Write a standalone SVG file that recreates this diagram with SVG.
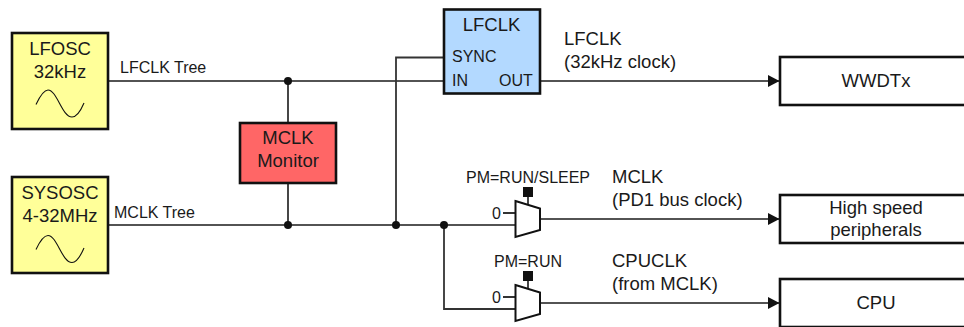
<svg xmlns="http://www.w3.org/2000/svg" width="964" height="327" viewBox="0 0 964 327">
<style>
text{font-family:"Liberation Sans",Arial,sans-serif;fill:#1a1a1a;font-size:18.500px}
.c{text-anchor:middle}
.s{font-size:16px}
.box{stroke:#111;stroke-width:2.6}
.w{fill:none;stroke:#1a1a1a;stroke-width:1.4}
.g{fill:none;stroke:#333;stroke-width:1.8}
.wave{fill:none;stroke:#111;stroke-width:1.1}
.dot{fill:#111}
.mux{fill:#fff;stroke:#111;stroke-width:2}
</style>
<defs>
<marker id="arr" markerUnits="userSpaceOnUse" markerWidth="12" markerHeight="12" refX="11" refY="6" orient="auto"><path d="M0 0L11.500 6L0 12Z" fill="#111"/></marker>
</defs>
<g id="connectors">
<path class="w" d="M108 81H443"/>
<path class="w" d="M540 81H779" marker-end="url(#arr)"/>
<path class="g" d="M288 81V123M288 183V225"/>
<path class="w" d="M108 225H515"/>
<path class="g" d="M396 225V57.500H443"/>
<path class="g" d="M444 225V309H515"/>
<path class="w" d="M540 219H779" marker-end="url(#arr)"/>
<path class="w" d="M540 303H779" marker-end="url(#arr)"/>
<circle class="dot" cx="288" cy="81" r="4"/>
<circle class="dot" cx="288" cy="225" r="4"/>
<circle class="dot" cx="396" cy="225" r="4"/>
<circle class="dot" cx="444" cy="225" r="4"/>
<text x="120" y="73" class="s">LFCLK Tree</text>
<text x="114" y="218" class="s">MCLK Tree</text>
<text x="564" y="45">LFCLK</text>
<text x="564" y="68">(32kHz clock)</text>
<text x="612" y="183">MCLK</text>
<text x="612" y="206">(PD1 bus clock)</text>
<text x="612" y="267">CPUCLK</text>
<text x="612" y="290">(from MCLK)</text>
</g>
<g id="lfosc">
<rect class="box" x="12" y="33" width="96" height="96" fill="#ffff99"/>
<text class="c" x="60" y="55">LFOSC</text>
<text class="c" x="60" y="78">32kHz</text>
<path class="wave" d="M36 104.500C40 96 44 90 48 90C57 90 62 117 72 117C77 117 81 110 84 103"/>
</g>
<g id="sysosc">
<rect class="box" x="12" y="177" width="96" height="96" fill="#ffff99"/>
<text class="c" x="60" y="199">SYSOSC</text>
<text class="c" x="60" y="222">4-32MHz</text>
<path class="wave" d="M36 249.500C40 241 44 235.500 48 235.500C57 235.500 62 262.500 72 262.500C77 262.500 81 255 84 248"/>
</g>
<g id="mclk-monitor">
<rect class="box" x="240" y="123" width="96" height="60" fill="#ff6666"/>
<text class="c" x="288" y="144">MCLK</text>
<text class="c" x="288" y="167">Monitor</text>
</g>
<g id="lfclk">
<rect class="box" x="444" y="9.500" width="96" height="84" fill="#b3d9ff"/>
<text class="c" x="491.500" y="31">LFCLK</text>
<text x="452" y="62" class="s">SYNC</text>
<text x="452" y="86" class="s">IN</text>
<text x="499" y="86" class="s">OUT</text>
</g>
<g id="mux-mclk">
<path class="g" d="M528 204V196M503 213H515"/>
<rect class="dot" x="523" y="187" width="10" height="10"/>
<path class="mux" d="M515.500 201L540 208.500V230L515.500 237Z"/>
<text x="466" y="183" class="s">PM=RUN/SLEEP</text>
<text x="492" y="219" class="s">0</text>
</g>
<g id="mux-cpuclk">
<path class="g" d="M528 288V280M503 297H515"/>
<rect class="dot" x="523" y="271" width="10" height="10"/>
<path class="mux" d="M515.500 285L540 292.500V314L515.500 321Z"/>
<text x="494" y="267" class="s">PM=RUN</text>
<text x="492" y="303" class="s">0</text>
</g>
<g id="wwdtx">
<rect class="box" x="780" y="57" width="190" height="48" fill="#fff"/>
<text class="c" x="876" y="87">WWDTx</text>
</g>
<g id="high-speed-peripherals">
<rect class="box" x="780" y="195" width="190" height="48" fill="#fff"/>
<text class="c" x="876" y="214">High speed</text>
<text class="c" x="876" y="236">peripherals</text>
</g>
<g id="cpu">
<rect class="box" x="780" y="279" width="190" height="48" fill="#fff"/>
<text class="c" x="876" y="309">CPU</text>
</g>
</svg>
